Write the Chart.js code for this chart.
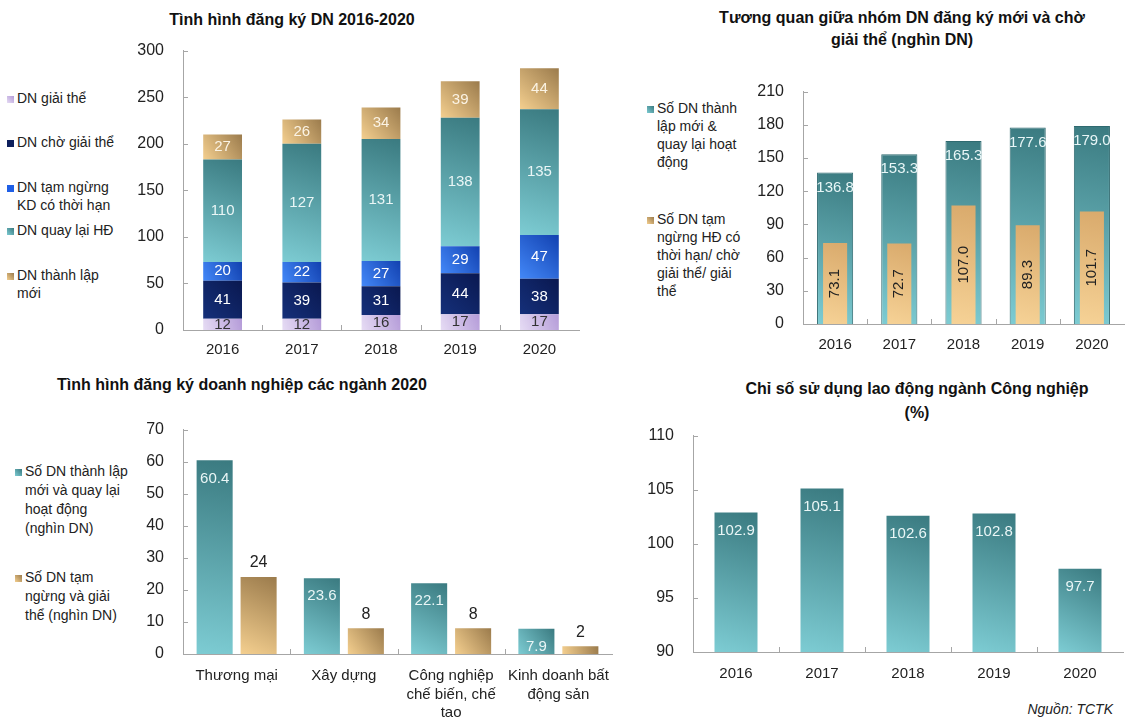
<!DOCTYPE html>
<html lang="vi">
<head>
<meta charset="utf-8">
<title>Tình hình đăng ký doanh nghiệp</title>
<script src="https://cdn.jsdelivr.net/npm/chart.js@4.4.1/dist/chart.umd.min.js"></script>
<style>
  body { margin: 0; background: #fff; font-family: "Liberation Sans", Arial, sans-serif; color: #222; }
  #page { position: relative; width: 1138px; height: 718px; overflow: hidden; }
  canvas { position: absolute; }
  .title { position: absolute; font-weight: bold; font-size: 16px; line-height: 22px; text-align: center; color: #111; white-space: nowrap; }
  .legend { position: absolute; font-size: 14px; line-height: 18px; color: #222; }
  .item { position: absolute; left: 0; display: flex; white-space: nowrap; }
  .mk { display: inline-block; width: 7px; height: 7px; margin: 7px 3px 0 0; flex: none; }
  .src { position: absolute; font-style: italic; font-size: 14px; right: 25px; top: 701px; }
</style>
</head>
<body>
<div id="page">
  <div class="title" style="left:92px;top:9px;width:400px;">Tình hình đăng ký DN 2016-2020</div>
  <div class="title" style="left:702px;top:7px;width:400px;">Tương quan giữa nhóm DN đăng ký mới và chờ<br>giải thể (nghìn DN)</div>
  <div class="title" style="left:42px;top:374px;width:400px;">Tình hình đăng ký doanh nghiệp các ngành 2020</div>
  <div class="title" style="left:717px;top:377px;width:400px;line-height:24px;">Chỉ số sử dụng lao động ngành Công nghiệp<br>(%)</div>

  <div class="legend" style="left:7px;top:0;">
    <div class="item" style="top:89px;"><span class="mk" style="background:linear-gradient(to top right,#e6dcf4,#b49bd8)"></span><span>DN giải thể</span></div>
    <div class="item" style="top:133px;"><span class="mk" style="background:#0d1f5c"></span><span>DN chờ giải thể</span></div>
    <div class="item" style="top:178px;"><span class="mk" style="background:#1f5fe6"></span><span>DN tạm ngừng<br>KD có thời hạn</span></div>
    <div class="item" style="top:221px;"><span class="mk" style="background:linear-gradient(to top right,#7dccd3,#3a7a80)"></span><span>DN quay lại HĐ</span></div>
    <div class="item" style="top:266px;"><span class="mk" style="background:linear-gradient(to top right,#f4cf8f,#9b7b4c)"></span><span>DN thành lập<br>mới</span></div>
  </div>

  <div class="legend" style="left:647px;top:0;">
    <div class="item" style="top:99px;"><span class="mk" style="background:linear-gradient(to top right,#7dccd3,#3a7a80)"></span><span>Số DN thành<br>lập mới &amp;<br>quay lại hoạt<br>động</span></div>
    <div class="item" style="top:210px;"><span class="mk" style="background:linear-gradient(to top right,#f4cf8f,#9b7b4c)"></span><span>Số DN tạm<br>ngừng HĐ có<br>thời hạn/ chờ<br>giải thể/ giải<br>thể</span></div>
  </div>

  <div class="legend" style="left:15px;top:0;line-height:19px;">
    <div class="item" style="top:462px;"><span class="mk" style="background:linear-gradient(to top right,#7dccd3,#3a7a80);margin-top:7px"></span><span>Số DN thành lập<br>mới và quay lại<br>hoạt động<br>(nghìn DN)</span></div>
    <div class="item" style="top:568px;"><span class="mk" style="background:linear-gradient(to top right,#f4cf8f,#9b7b4c);margin-top:7px"></span><span>Số DN tạm<br>ngừng và giải<br>thể (nghìn DN)</span></div>
  </div>

  <div class="src">Nguồn: TCTK</div>

  <canvas id="c1" width="456" height="340" style="left:133px;top:30px;"></canvas>
  <canvas id="c2" width="381" height="293" style="left:753px;top:71px;"></canvas>
  <canvas id="c3" width="489" height="309" style="left:133px;top:409px;"></canvas>
  <canvas id="c4" width="490" height="277" style="left:643px;top:415px;"></canvas>
</div>
<script>
'use strict'

/**
 * Data
 */

const years = ['2016', '2017', '2018', '2019', '2020'];

// Tình hình đăng ký DN 2016-2020 (stack from bottom)
const dnGiaiThe = [12, 12, 16, 17, 17];
const dnChoGiaiThe = [41, 39, 31, 44, 38];
const dnTamNgung = [20, 22, 27, 29, 47];
const dnQuayLai = [110, 127, 131, 138, 135];
const dnThanhLap = [27, 26, 34, 39, 44];
const ticks1 = [0, 50, 100, 150, 200, 250, 300];

// Tương quan giữa nhóm DN đăng ký mới và chờ giải thể
const dnMoiQuayLai = [136.8, 153.3, 165.3, 177.6, 179.0];
const dnNgungGiaiThe = [73.1, 72.7, 107.0, 89.3, 101.7];
const ticks2 = [0, 30, 60, 90, 120, 150, 180, 210];

// Tình hình đăng ký doanh nghiệp các ngành 2020
const nganh = [['Thương mại'], ['Xây dựng'], ['Công nghiệp', 'chế biến, chế', 'tạo'], ['Kinh doanh bất', 'động sản']];
const nganhMoi = [60.4, 23.6, 22.1, 7.9];
const nganhNgung = [24, 8, 8, 2.4];
const ticks3 = [0, 10, 20, 30, 40, 50, 60, 70];

// Chỉ số sử dụng lao động ngành Công nghiệp (%)
const chiSoLaoDong = [102.9, 105.1, 102.6, 102.8, 97.7];
const ticks4 = [90, 95, 100, 105, 110];

/**
 * Helpers
 */

Chart.defaults.font.family = '"Liberation Sans", Arial, sans-serif';
Chart.defaults.color = '#222';

const AXIS = '#a6a6a6';
const TEAL = ['#7dccd3', '#3a7a80'];
const TAN = ['#f4cf8f', '#9b7b4c'];

function grad(chart, cx, hw, v0, v1, cols) {
    const y = chart.scales.y;
    const g = chart.ctx.createLinearGradient(cx - hw, y.getPixelForValue(v0), cx + hw, y.getPixelForValue(v1));
    g.addColorStop(0, cols[0]);
    g.addColorStop(1, cols[1]);
    return g;
}

// bar fill: gradient over each bar, bottom-left light to top-right dark
function barFill(cols, frac, shift, baseOf) {
    return function (c) {
        if (c.type !== 'data' || !c.chart.chartArea) return cols[1];
        const xs = c.chart.scales.x;
        const catW = xs.width / xs.ticks.length;
        const cx = xs.getPixelForValue(c.dataIndex) + shift * catW;
        const v0 = baseOf(c);
        const v1 = v0 + c.dataset.data[c.dataIndex];
        return grad(c.chart, cx, catW * frac / 2, v0, v1, cols);
    };
}

function axes(tickList, xPad, extra) {
    return {
        x: Object.assign({
            grid: { display: false },
            border: { color: AXIS },
            ticks: { font: { size: 15 }, padding: xPad, maxRotation: 0, autoSkip: false },
            afterFit: s => { s.height = extra.xH; }
        }, extra.x || {}),
        y: Object.assign({
            min: tickList[0],
            max: tickList[tickList.length - 1],
            grid: { display: false },
            border: { color: AXIS },
            ticks: { font: { size: 16 }, padding: 11 },
            afterBuildTicks: s => { s.ticks = tickList.map(v => ({ value: v })); },
            afterFit: s => { s.width = 50; }
        }, extra.y || {})
    };
}

// small inside tick marks like the source charts
const innerTicks = {
    id: 'innerTicks',
    beforeDatasetsDraw(chart) {
        const { ctx, chartArea: a, scales: { x, y } } = chart;
        ctx.save();
        ctx.strokeStyle = AXIS;
        ctx.lineWidth = 1;
        ctx.beginPath();
        y.ticks.forEach(t => {
            const py = Math.round(y.getPixelForValue(t.value)) + 0.5;
            ctx.moveTo(a.left, py);
            ctx.lineTo(a.left + 5, py);
        });
        for (let i = 1; i < x.ticks.length; i++) {
            const px = Math.round(x.getPixelForValue(i - 0.5)) + 0.5;
            ctx.moveTo(px, a.bottom);
            ctx.lineTo(px, a.bottom - 5);
        }
        ctx.stroke();
        ctx.restore();
    }
};

// value labels; styles: per dataset {pos, color, size, offset, rotate, fmt}
function valueLabels(styles) {
    return {
        id: 'valueLabels',
        afterDatasetsDraw(chart) {
            const ctx = chart.ctx;
            styles.forEach((st, di) => {
                if (!st) return;
                const ds = chart.data.datasets[di];
                chart.getDatasetMeta(di).data.forEach((bar, i) => {
                    const text = st.fmt(ds.data[i]);
                    let y;
                    if (st.pos === 'center') y = (bar.y + bar.base) / 2;
                    else if (st.pos === 'top') y = bar.y + st.offset;
                    else y = bar.y - st.offset;
                    ctx.save();
                    ctx.font = st.size + 'px "Liberation Sans", Arial, sans-serif';
                    ctx.fillStyle = st.color;
                    ctx.textAlign = 'center';
                    ctx.textBaseline = 'middle';
                    ctx.translate(bar.x, y);
                    if (st.rotate) ctx.rotate(-Math.PI / 2);
                    ctx.fillText(text, 0, 0);
                    ctx.restore();
                });
            });
        }
    };
}

const f0 = v => String(Math.round(v));
const f1 = v => v.toFixed(1);

/**
 * Chart 1 - stacked
 */

const stack1 = [dnGiaiThe, dnChoGiaiThe, dnTamNgung, dnQuayLai, dnThanhLap];
const stackCols = [['#e6dcf4', '#b49bd8'], ['#15307a', '#0a1850'], ['#4388f8', '#1241b0'], TEAL, TAN];
const stackBase = c => {
    let s = 0;
    for (let k = 0; k < c.datasetIndex; k++) s += stack1[k][c.dataIndex];
    return s;
};

new Chart(document.getElementById('c1'), {
    type: 'bar',
    data: {
        labels: years,
        datasets: stack1.map((d, k) => ({
            data: d,
            backgroundColor: barFill(stackCols[k], 0.49, 0, stackBase),
            categoryPercentage: 1,
            barPercentage: 0.49
        }))
    },
    options: {
        responsive: false,
        animation: false,
        layout: { padding: { top: 14, right: 10, left: 0, bottom: 0 } },
        plugins: { legend: { display: false }, tooltip: { enabled: false } },
        scales: (() => {
            const s = axes(ticks1, 3, { xH: 40 });
            s.x.stacked = true;
            s.y.stacked = true;
            return s;
        })()
    },
    plugins: [innerTicks, valueLabels([
        { pos: 'center', color: '#333', size: 15, fmt: f0 },
        { pos: 'center', color: '#fff', size: 15, fmt: f0 },
        { pos: 'center', color: '#fff', size: 15, fmt: f0 },
        { pos: 'center', color: '#eaf6f6', size: 15, fmt: f0 },
        { pos: 'center', color: '#fbf3e4', size: 15, fmt: f0 }
    ])]
});

/**
 * Chart 2 - overlapped bars
 */

new Chart(document.getElementById('c2'), {
    type: 'bar',
    data: {
        labels: years,
        datasets: [{
            data: dnMoiQuayLai,
            grouped: false,
            order: 2,
            backgroundColor: barFill(TEAL, 0.5625, 0, () => 0),
            borderColor: '#2f6a70',
            borderWidth: 1,
            categoryPercentage: 1,
            barPercentage: 0.5625
        }, {
            data: dnNgungGiaiThe,
            grouped: false,
            order: 1,
            backgroundColor: barFill(['#f6d296', '#d9aa6c'], 0.375, 0, () => 0),
            categoryPercentage: 1,
            barPercentage: 0.375
        }]
    },
    options: {
        responsive: false,
        animation: false,
        layout: { padding: { top: 14, right: 10, left: 0, bottom: 0 } },
        plugins: { legend: { display: false }, tooltip: { enabled: false } },
        scales: axes(ticks2, 4, { xH: 40 })
    },
    plugins: [innerTicks, valueLabels([
        { pos: 'top', offset: 15, color: '#e8f6f7', size: 15, fmt: f1 },
        { pos: 'center', rotate: true, color: '#222', size: 15, fmt: f1 }
    ])]
});

/**
 * Chart 3 - grouped bars
 */

new Chart(document.getElementById('c3'), {
    type: 'bar',
    data: {
        labels: nganh,
        datasets: [{
            data: nganhMoi,
            backgroundColor: barFill(TEAL, 0.82 * 0.82 / 2, -0.82 / 4, () => 0),
            categoryPercentage: 0.82,
            barPercentage: 0.82
        }, {
            data: nganhNgung,
            backgroundColor: barFill(TAN, 0.82 * 0.82 / 2, 0.82 / 4, () => 0),
            categoryPercentage: 0.82,
            barPercentage: 0.82
        }]
    },
    options: {
        responsive: false,
        animation: false,
        layout: { padding: { top: 14, right: 10, left: 0, bottom: 0 } },
        plugins: { legend: { display: false }, tooltip: { enabled: false } },
        scales: (() => {
            const s = axes(ticks3, 5, { xH: 64 });
            s.x.ticks.font = { size: 15, lineHeight: 1.22 };
            return s;
        })()
    },
    plugins: [innerTicks, valueLabels([
        { pos: 'top', offset: 18, color: '#eaf6f6', size: 15, fmt: f1 },
        { pos: 'above', offset: 14, color: '#222', size: 16, fmt: f0 }
    ])]
});

/**
 * Chart 4 - single series
 */

new Chart(document.getElementById('c4'), {
    type: 'bar',
    data: {
        labels: years,
        datasets: [{
            data: chiSoLaoDong,
            backgroundColor: function (c) {
                if (c.type !== 'data' || !c.chart.chartArea) return TEAL[1];
                const xs = c.chart.scales.x;
                const catW = xs.width / xs.ticks.length;
                const cx = xs.getPixelForValue(c.dataIndex);
                return grad(c.chart, cx, catW * 0.25, ticks4[0], c.dataset.data[c.dataIndex], TEAL);
            },
            categoryPercentage: 1,
            barPercentage: 0.5
        }]
    },
    options: {
        responsive: false,
        animation: false,
        layout: { padding: { top: 14, right: 10, left: 0, bottom: 0 } },
        plugins: { legend: { display: false }, tooltip: { enabled: false } },
        scales: axes(ticks4, 5, { xH: 40 })
    },
    plugins: [innerTicks, valueLabels([
        { pos: 'top', offset: 18, color: '#eaf6f6', size: 15, fmt: f1 }
    ])]
});
</script>
</body>
</html>
